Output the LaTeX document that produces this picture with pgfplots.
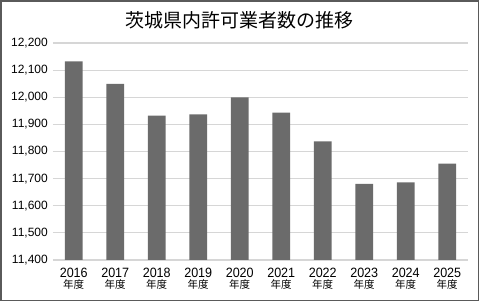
\documentclass[border=0pt]{standalone}
\usepackage{fontspec}
\setmainfont{Liberation Sans}
\newfontfamily\cjk{Noto Sans CJK JP}
\newfontfamily\xnum{Liberation Sans}[FakeStretch=0.93]
\usepackage{pgfplots}
\pgfplotsset{compat=1.18}
\usetikzlibrary{calc}
\definecolor{barc}{HTML}{6B6B6B}
\definecolor{gridc}{HTML}{D6D6D6}
\definecolor{framec}{HTML}{5A5A5A}
\newcommand\yl[1]{{\xnum\fontsize{13.5}{11}\selectfont #1}\\{\cjk\fontsize{10.5}{11}\selectfont 年度}}
\begin{document}
\begin{tikzpicture}
\begin{axis}[
  name=ax,
  scale only axis,
  width=415pt, height=217pt,
  xmin=-0.5, xmax=9.5, ymin=11400, ymax=12200,
  ytick={11400,11500,...,12200},
  xtick={0,...,9},
  xticklabels={\yl{2016},\yl{2017},\yl{2018},\yl{2019},\yl{2020},\yl{2021},\yl{2022},\yl{2023},\yl{2024},\yl{2025}},
  xticklabel style={align=center, inner sep=0pt, anchor=north, yshift=-8pt, font=\fontsize{13}{11}\selectfont},
  yticklabel style={inner sep=0pt, anchor=east, xshift=-5pt, font=\fontsize{12}{12}\selectfont,
    /pgf/number format/.cd, fixed, 1000 sep={,}, assume math mode=true},
  scaled y ticks=false,
  axis line style={draw=none},
  major tick length=0pt,
  ymajorgrids,
  grid style={gridc, line width=1.2pt},
]
\addplot[ybar, bar width=17.7pt, fill=barc, draw=none] coordinates {
(0,12132) (1,12049) (2,11932) (3,11937) (4,12000) (5,11943) (6,11837) (7,11681) (8,11686) (9,11755)};
\end{axis}
\coordinate (O) at ($(ax.south west)+(-53pt,-42pt)$);
\pgfresetboundingbox
\useasboundingbox (O) rectangle ($(O)+(480pt,302pt)$);
\draw[framec, line width=1.6pt] ($(O)+(1.2pt,1.5pt)$) rectangle ($(O)+(478.6pt,301.2pt)$);
\node[font=\cjk\fontsize{19}{19}\selectfont] at ($(O)+(240pt,282pt)$) {茨城県内許可業者数の推移};
\end{tikzpicture}
\end{document}
